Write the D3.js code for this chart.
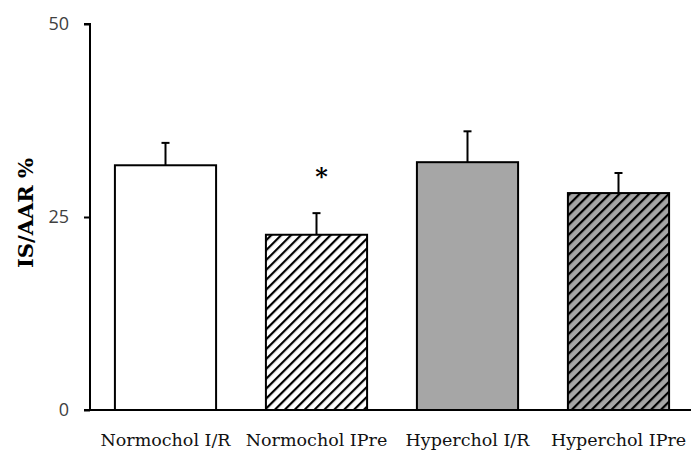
<!DOCTYPE html>
<html><head><meta charset="utf-8">
<script src="https://cdn.jsdelivr.net/npm/d3@7"></script>
<style>body{margin:0;background:#fff}svg{display:block}</style>
</head><body>
<script>
const categories = ["Normochol I/R", "Normochol IPre", "Hyperchol I/R", "Hyperchol IPre"];
const means = [31.7, 22.7, 32.1, 28.1];
const errors = [2.9, 2.8, 4.0, 2.6];
const fills = ["#ffffff", "hatch-white", "#a6a6a6", "hatch-gray"];
const significance = ["", "*", "", ""];
const yTicks = [0, 25, 50];

const W = 691, H = 450;
const svg = d3.select("body").append("svg").attr("width", W).attr("height", H);
const defs = svg.append("defs");
[["hatch-white", "#ffffff"], ["hatch-gray", "#a6a6a6"]].forEach(([id, bg]) => {
  const p = defs.append("pattern").attr("id", id).attr("patternUnits", "userSpaceOnUse")
    .attr("width", 7).attr("height", 7).attr("patternTransform", "rotate(45)");
  p.append("rect").attr("width", 7).attr("height", 7).attr("fill", bg);
  p.append("rect").attr("x", 0).attr("y", 0).attr("width", 2.2).attr("height", 7).attr("fill", "#000");
});

const x = d3.scaleBand().domain(categories).range([90, 694]).paddingInner(0.33).paddingOuter(0.165);
const y = d3.scaleLinear().domain([0, 50]).range([410, 24]);

// bars
const g = svg.append("g");
g.selectAll("rect.bar").data(categories).enter().append("rect")
  .attr("x", d => x(d)).attr("width", x.bandwidth())
  .attr("y", (d, i) => y(means[i])).attr("height", (d, i) => y(0) - y(means[i]))
  .attr("fill", (d, i) => fills[i].startsWith("hatch") ? `url(#${fills[i]})` : fills[i])
  .attr("stroke", "#000").attr("stroke-width", 2);

// error bars
g.selectAll("line.err").data(categories).enter().append("line")
  .attr("x1", d => x(d) + x.bandwidth() / 2).attr("x2", d => x(d) + x.bandwidth() / 2)
  .attr("y1", (d, i) => y(means[i])).attr("y2", (d, i) => y(means[i] + errors[i]))
  .attr("stroke", "#000").attr("stroke-width", 2);
g.selectAll("line.cap").data(categories).enter().append("line")
  .attr("x1", d => x(d) + x.bandwidth() / 2 - 4).attr("x2", d => x(d) + x.bandwidth() / 2 + 4)
  .attr("y1", (d, i) => y(means[i] + errors[i])).attr("y2", (d, i) => y(means[i] + errors[i]))
  .attr("stroke", "#000").attr("stroke-width", 2);

// significance
g.selectAll("text.sig").data(categories).enter().append("text")
  .attr("x", d => x(d) + x.bandwidth() / 2 + 5)
  .attr("y", (d, i) => y(means[i] + errors[i]) - 28)
  .attr("text-anchor", "middle").attr("font-family", "DejaVu Serif").attr("font-weight", "bold")
  .attr("font-size", 24).text((d, i) => significance[i]);

// y axis
const yAxis = svg.append("g").attr("transform", "translate(90,0)")
  .call(d3.axisLeft(y).tickValues(yTicks).tickSize(6).tickPadding(15));
yAxis.select(".domain").attr("stroke", "#000").attr("stroke-width", 2).attr("d", "M-6,24H0V410");
yAxis.selectAll(".tick line").attr("stroke", "#000").attr("stroke-width", 2);
yAxis.selectAll(".tick text").attr("font-family", "Open Sans, sans-serif").attr("font-size", 18).attr("fill", "#404040");

// x axis baseline
svg.append("line").attr("x1", 84).attr("x2", 691).attr("y1", 410).attr("y2", 410)
  .attr("stroke", "#000").attr("stroke-width", 2);
svg.append("g").selectAll("text").data(categories).enter().append("text")
  .attr("x", d => x(d) + x.bandwidth() / 2).attr("y", 446)
  .attr("text-anchor", "middle").attr("font-family", "DejaVu Serif").attr("font-size", 17.5)
  .attr("fill", "#111").text(d => d);

// y title
svg.append("text").attr("transform", "translate(33,213) rotate(-90)")
  .attr("text-anchor", "middle").attr("font-family", "DejaVu Serif").attr("font-weight", "bold")
  .attr("font-size", 21).text("IS/AAR %");
</script>
</body></html>
